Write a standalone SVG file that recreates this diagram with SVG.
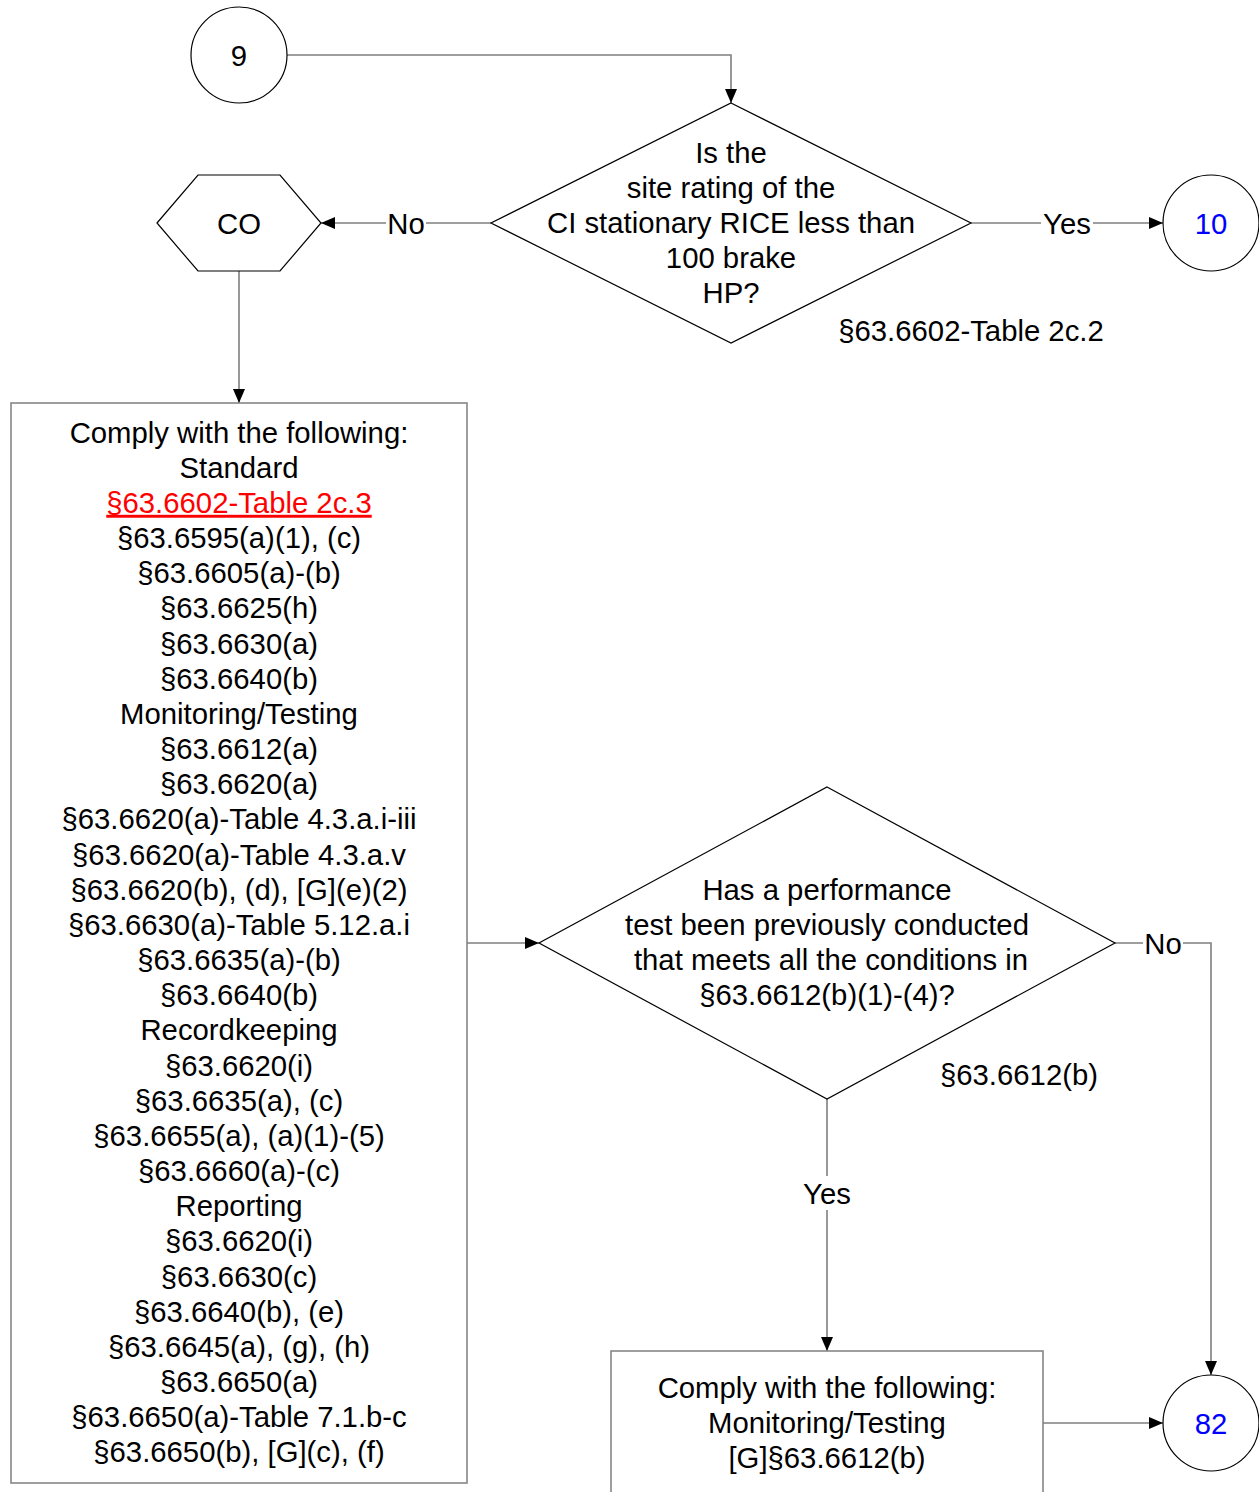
<svg xmlns="http://www.w3.org/2000/svg" width="1259" height="1492" viewBox="0 0 1259 1492">
<style>
text{font-family:"Liberation Sans",Arial,sans-serif;font-size:29.3px;fill:#000;text-anchor:middle}
.shape{fill:#fff;stroke:#000;stroke-width:1.2}
.box{fill:#fff;stroke:#7f7f7f;stroke-width:1.5}
.conn{fill:none;stroke:#7f7f7f;stroke-width:1.6}
.lbl{fill:#fff;stroke:none}
.blue{fill:#0000ff}
.red{fill:#ff0000;text-decoration:underline}
</style>
<defs>
<marker id="arr" viewBox="0 0 14 12" refX="14" refY="6" markerWidth="14" markerHeight="12" markerUnits="userSpaceOnUse" orient="auto">
<path d="M0,0 L14,6 L0,12 Z" fill="#000"/>
</marker>
</defs>
<g id="connectors">
<path class="conn" d="M287,55 H731 V103" marker-end="url(#arr)"/>
<path class="conn" d="M491,223 H321" marker-end="url(#arr)"/>
<path class="conn" d="M971,223 H1163" marker-end="url(#arr)"/>
<path class="conn" d="M239,271 V403" marker-end="url(#arr)"/>
<path class="conn" d="M467,943 H539" marker-end="url(#arr)"/>
<path class="conn" d="M1115,943 H1211 V1375" marker-end="url(#arr)"/>
<path class="conn" d="M827,1099 V1351" marker-end="url(#arr)"/>
<path class="conn" d="M1043,1423 H1163" marker-end="url(#arr)"/>
<rect class="lbl" x="386" y="208" width="40" height="30"/>
<text x="406" y="233.5">No</text>
<rect class="lbl" x="1041" y="208" width="52" height="30"/>
<text x="1067" y="233.5">Yes</text>
<rect class="lbl" x="1143" y="928" width="40" height="30"/>
<text x="1163" y="953.5">No</text>
<rect class="lbl" x="800" y="1176" width="54" height="34"/>
<text x="827" y="1203.5">Yes</text>
</g>
<g id="n9">
<circle class="shape" cx="239" cy="55" r="48"/>
<text x="239" y="65.5">9</text>
</g>
<g id="d1">
<polygon class="shape" points="731,103 971,223 731,343 491,223"/>
<text x="731" y="162.5">Is the</text>
<text x="731" y="197.5">site rating of the</text>
<text x="731" y="232.5">CI stationary RICE less than</text>
<text x="731" y="267.5">100 brake</text>
<text x="731" y="302.5">HP?</text>
<text x="971" y="340.5">§63.6602-Table 2c.2</text>
</g>
<g id="co">
<polygon class="shape" points="157,223 198,175 280,175 321,223 280,271 198,271"/>
<text x="239" y="233.5">CO</text>
</g>
<g id="n10">
<circle class="shape" cx="1211" cy="223" r="48"/>
<text class="blue" x="1211" y="233.5">10</text>
</g>
<g id="box1">
<rect class="box" x="11" y="403" width="456" height="1080"/>
<text x="239" y="442.5">Comply with the following:</text>
<text x="239" y="477.7">Standard</text>
<text class="red" x="239" y="512.8">§63.6602-Table 2c.3</text>
<text x="239" y="548">§63.6595(a)(1), (c)</text>
<text x="239" y="583.2">§63.6605(a)-(b)</text>
<text x="239" y="618.4">§63.6625(h)</text>
<text x="239" y="653.5">§63.6630(a)</text>
<text x="239" y="688.7">§63.6640(b)</text>
<text x="239" y="723.9">Monitoring/Testing</text>
<text x="239" y="759">§63.6612(a)</text>
<text x="239" y="794.2">§63.6620(a)</text>
<text x="239" y="829.4">§63.6620(a)-Table 4.3.a.i-iii</text>
<text x="239" y="864.5">§63.6620(a)-Table 4.3.a.v</text>
<text x="239" y="899.7">§63.6620(b), (d), [G](e)(2)</text>
<text x="239" y="934.9">§63.6630(a)-Table 5.12.a.i</text>
<text x="239" y="970.1">§63.6635(a)-(b)</text>
<text x="239" y="1005.2">§63.6640(b)</text>
<text x="239" y="1040.4">Recordkeeping</text>
<text x="239" y="1075.6">§63.6620(i)</text>
<text x="239" y="1110.7">§63.6635(a), (c)</text>
<text x="239" y="1145.9">§63.6655(a), (a)(1)-(5)</text>
<text x="239" y="1181.1">§63.6660(a)-(c)</text>
<text x="239" y="1216.2">Reporting</text>
<text x="239" y="1251.4">§63.6620(i)</text>
<text x="239" y="1286.6">§63.6630(c)</text>
<text x="239" y="1321.8">§63.6640(b), (e)</text>
<text x="239" y="1356.9">§63.6645(a), (g), (h)</text>
<text x="239" y="1392.1">§63.6650(a)</text>
<text x="239" y="1427.3">§63.6650(a)-Table 7.1.b-c</text>
<text x="239" y="1462.4">§63.6650(b), [G](c), (f)</text>
</g>
<g id="d2">
<polygon class="shape" points="827,787 1115,943 827,1099 539,943"/>
<text x="827" y="899.5">Has a performance</text>
<text x="827" y="934.5">test been previously conducted</text>
<text x="831" y="970">that meets all the conditions in</text>
<text x="827" y="1005">§63.6612(b)(1)-(4)?</text>
<text x="1019" y="1084.5">§63.6612(b)</text>
</g>
<g id="box2">
<rect class="box" x="611" y="1351" width="432" height="160"/>
<text x="827" y="1397.5">Comply with the following:</text>
<text x="827" y="1432.5">Monitoring/Testing</text>
<text x="827" y="1467.5">[G]§63.6612(b)</text>
</g>
<g id="n82">
<circle class="shape" cx="1211" cy="1423" r="48"/>
<text class="blue" x="1211" y="1433.5">82</text>
</g>
</svg>
